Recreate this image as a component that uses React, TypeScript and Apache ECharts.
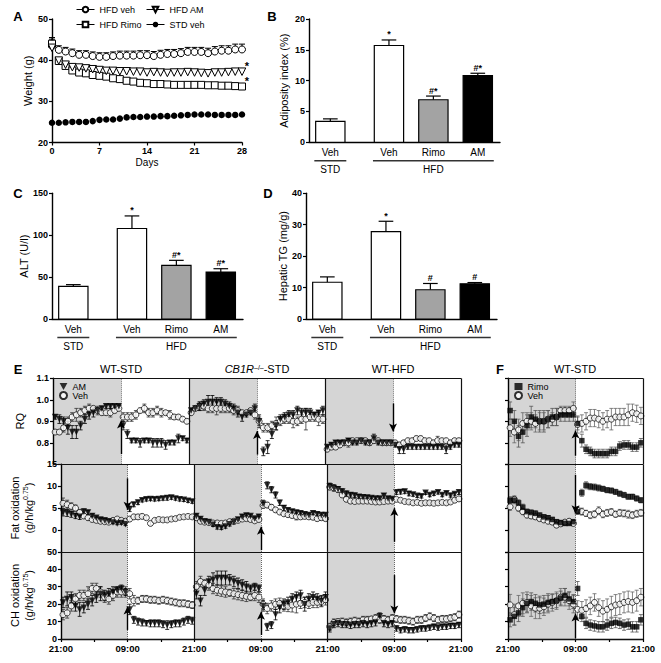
import React, { useEffect, useRef } from "react";
import * as echarts from "echarts";

const FONT = "'Liberation Sans', Arial, Helvetica, sans-serif";

// ---------------- Panel A : body weight ----------------
const A_DAYS = [0, 1, 2, 3, 4, 5, 6, 7, 8, 9, 10, 11, 12, 13, 14, 15, 16, 17, 18, 19, 20, 21, 22, 23, 24, 25, 26, 27, 28];
const A_HFD_VEH = [43.5, 42.5, 42.1, 41.7, 41.3, 41.3, 41.0, 40.8, 40.8, 41.0, 41.1, 41.1, 41.1, 41.2, 41.2, 41.0, 41.3, 41.5, 41.5, 41.7, 42.0, 42.0, 42.0, 41.7, 42.1, 42.3, 42.3, 42.6, 42.6];
const A_HFD_VEH_ERR = [1.6, 1.0, 1.0, 1.0, 1.0, 1.0, 1.0, 1.0, 1.0, 1.0, 1.1, 1.1, 1.1, 1.1, 1.1, 1.1, 1.1, 1.1, 1.1, 1.1, 1.1, 1.1, 1.1, 1.2, 1.2, 1.2, 1.2, 1.3, 1.3];
const A_HFD_RIMO = [44.0, 39.8, 38.6, 37.5, 37.0, 36.8, 36.4, 36.2, 36.0, 35.6, 35.4, 35.0, 34.8, 34.5, 34.4, 34.2, 34.2, 34.1, 34.0, 34.0, 34.0, 34.0, 34.0, 33.9, 33.9, 33.8, 33.8, 33.7, 33.6];
const A_HFD_RIMO_ERR = [1.5, 0.6, 0.6, 0.6, 0.6, 0.6, 0.6, 0.6, 0.6, 0.6, 0.6, 0.6, 0.6, 0.6, 0.6, 0.6, 0.6, 0.6, 0.6, 0.6, 0.6, 0.6, 0.6, 0.6, 0.6, 0.6, 0.6, 0.6, 0.6];
const A_HFD_AM = [43.0, 39.9, 38.9, 38.3, 38.2, 38.0, 37.8, 37.6, 37.4, 37.4, 37.3, 37.3, 37.2, 37.2, 37.0, 37.1, 37.0, 36.9, 37.0, 37.0, 37.1, 37.0, 36.9, 36.8, 37.0, 37.0, 37.1, 37.2, 37.2];
const A_HFD_AM_ERR = [1.0, 0.6, 0.6, 0.6, 0.6, 0.6, 0.6, 0.6, 0.6, 0.6, 0.6, 0.6, 0.6, 0.6, 0.6, 0.6, 0.6, 0.6, 0.6, 0.6, 0.6, 0.6, 0.6, 0.6, 0.6, 0.6, 0.6, 0.6, 0.6];
const A_STD_VEH = [24.8, 24.8, 24.9, 25.0, 25.0, 25.0, 25.2, 25.5, 25.6, 25.6, 25.8, 26.1, 26.2, 26.2, 26.3, 26.3, 26.4, 26.4, 26.5, 26.6, 26.7, 26.8, 26.8, 26.8, 26.7, 26.7, 26.7, 26.7, 26.8];
const A_SIG_AM = "*";
const A_SIG_RIMO = "*";

// ---------------- Panels B, C, D : bar charts ----------------
const BAR_LABELS = ["Veh", "Veh", "Rimo", "AM"];
const GROUP_NAMES = ["STD", "HFD"];
const GROUP_SPANS = [[0, 0], [1, 3]];
const B_VALUES = [3.4, 15.7, 6.9, 10.8];
const B_ERR = [0.4, 0.9, 0.6, 0.4];
const B_SIG = ["", "*", "#*", "#*"];
const C_VALUES = [39, 108, 64, 56];
const C_ERR = [2, 15, 6, 4];
const C_SIG = ["", "*", "#*", "#*"];
const D_VALUES = [11.7, 27.8, 9.3, 11.2];
const D_ERR = [1.7, 3.3, 2.0, 0.4];
const D_SIG = ["", "*", "#", "#"];

// ---------------- Panel E : indirect calorimetry (3 x 24 h) ----------------
const HOURS = [0.375, 1.125, 1.875, 2.625, 3.375, 4.125, 4.875, 5.625, 6.375, 7.125, 7.875, 8.625, 9.375, 10.125, 10.875, 11.625, 12.375, 13.125, 13.875, 14.625, 15.375, 16.125, 16.875, 17.625, 18.375, 19.125, 19.875, 20.625, 21.375, 22.125, 22.875, 23.625];
const E_COLUMNS = ["WT-STD", "CB1R-STD", "WT-HFD"];
const TIME_TICKS = ["21:00", "09:00"];

const E_RQ_AM = [
  0.92, 0.91, 0.90, 0.87, 0.85, 0.85, 0.88, 0.91, 0.93, 0.94, 0.95, 0.96, 0.97, 0.97, 0.97, 0.97, 0.88, 0.84, 0.81, 0.81, 0.80, 0.81, 0.81, 0.80, 0.80, 0.80, 0.79, 0.80, 0.80, 0.82, 0.82, 0.81,
  0.95, 0.96, 0.97, 0.98, 0.99, 0.99, 0.99, 0.99, 0.98, 0.97, 0.96, 0.94, 0.92, 0.93, 0.94, 0.96, 0.90, 0.76, 0.78, 0.84, 0.88, 0.91, 0.92, 0.93, 0.93, 0.95, 0.94, 0.94, 0.94, 0.93, 0.94, 0.95,
  0.78, 0.79, 0.80, 0.80, 0.80, 0.81, 0.80, 0.80, 0.81, 0.80, 0.80, 0.82, 0.80, 0.80, 0.80, 0.80, 0.79, 0.77, 0.77, 0.78, 0.78, 0.78, 0.78, 0.78, 0.78, 0.78, 0.78, 0.78, 0.77, 0.78, 0.79, 0.79,
];
const E_RQ_AM_ERR = [
  0.01, 0.02, 0.02, 0.03, 0.03, 0.03, 0.02, 0.02, 0.02, 0.02, 0.01, 0.01, 0.01, 0.01, 0.01, 0.01, 0.02, 0.02, 0.01, 0.01, 0.02, 0.01, 0.01, 0.02, 0.02, 0.02, 0.02, 0.01, 0.01, 0.02, 0.01, 0.01,
  0.01, 0.01, 0.02, 0.02, 0.03, 0.03, 0.02, 0.02, 0.02, 0.02, 0.02, 0.02, 0.02, 0.01, 0.01, 0.02, 0.03, 0.02, 0.03, 0.02, 0.02, 0.02, 0.02, 0.02, 0.02, 0.02, 0.02, 0.02, 0.02, 0.01, 0.01, 0.02,
  0.01, 0.01, 0.01, 0.01, 0.01, 0.01, 0.01, 0.01, 0.01, 0.01, 0.01, 0.02, 0.01, 0.01, 0.01, 0.01, 0.01, 0.02, 0.02, 0.01, 0.01, 0.01, 0.01, 0.01, 0.01, 0.01, 0.01, 0.01, 0.02, 0.01, 0.01, 0.01,
];
const E_RQ_VEH = [
  0.85, 0.85, 0.87, 0.90, 0.92, 0.93, 0.94, 0.95, 0.96, 0.96, 0.95, 0.94, 0.94, 0.94, 0.95, 0.96, 0.92, 0.92, 0.92, 0.93, 0.95, 0.96, 0.94, 0.94, 0.95, 0.94, 0.94, 0.93, 0.92, 0.92, 0.91, 0.90,
  0.94, 0.96, 0.97, 0.97, 0.96, 0.96, 0.96, 0.96, 0.96, 0.96, 0.95, 0.95, 0.94, 0.94, 0.95, 0.93, 0.90, 0.87, 0.87, 0.88, 0.89, 0.90, 0.91, 0.91, 0.90, 0.90, 0.91, 0.91, 0.92, 0.92, 0.91, 0.91,
  0.77, 0.78, 0.78, 0.79, 0.80, 0.80, 0.81, 0.81, 0.81, 0.81, 0.80, 0.81, 0.81, 0.80, 0.80, 0.80, 0.80, 0.79, 0.80, 0.81, 0.81, 0.82, 0.82, 0.81, 0.81, 0.80, 0.81, 0.81, 0.81, 0.80, 0.81, 0.81,
];
const E_RQ_VEH_ERR = [
  0.01, 0.01, 0.02, 0.02, 0.02, 0.03, 0.02, 0.02, 0.02, 0.01, 0.02, 0.01, 0.01, 0.02, 0.01, 0.01, 0.02, 0.02, 0.02, 0.02, 0.01, 0.02, 0.02, 0.02, 0.02, 0.02, 0.01, 0.02, 0.01, 0.01, 0.01, 0.01,
  0.01, 0.01, 0.02, 0.02, 0.02, 0.02, 0.03, 0.02, 0.02, 0.02, 0.02, 0.02, 0.01, 0.01, 0.01, 0.02, 0.02, 0.02, 0.02, 0.02, 0.03, 0.02, 0.02, 0.02, 0.03, 0.02, 0.02, 0.05, 0.02, 0.02, 0.03, 0.02,
  0.01, 0.01, 0.01, 0.01, 0.01, 0.02, 0.01, 0.01, 0.01, 0.01, 0.01, 0.01, 0.01, 0.01, 0.01, 0.01, 0.01, 0.01, 0.01, 0.01, 0.01, 0.01, 0.01, 0.01, 0.01, 0.01, 0.02, 0.01, 0.01, 0.01, 0.01, 0.01,
];
const E_FAT_AM = [
  4.0, 3.9, 3.6, 3.2, 3.0, 4.2, 4.0, 3.2, 2.8, 2.4, 2.2, 2.0, 1.7, 1.5, 1.6, 1.3, 4.8, 5.8, 6.3, 6.8, 7.0, 7.1, 7.0, 7.1, 7.2, 7.3, 7.4, 7.2, 7.0, 6.9, 6.7, 6.5,
  3.2, 2.5, 2.0, 1.8, 1.2, 0.6, 0.5, 0.8, 1.3, 1.8, 2.4, 3.0, 3.3, 3.2, 2.6, 3.0, 6.0, 10.2, 9.2, 8.0, 6.2, 5.0, 4.5, 4.2, 4.0, 3.8, 3.6, 3.4, 3.8, 3.6, 3.4, 3.4,
  10.0, 9.6, 9.3, 8.8, 8.3, 8.0, 7.9, 7.6, 7.5, 7.4, 7.3, 7.2, 7.2, 7.8, 7.2, 7.1, 8.6, 8.7, 8.8, 8.3, 8.1, 7.8, 7.7, 8.5, 8.0, 8.3, 8.6, 8.0, 8.4, 7.9, 8.2, 8.6,
];
const E_FAT_AM_ERR = [
  0.8, 0.8, 0.7, 0.6, 0.6, 0.6, 0.5, 0.5, 0.4, 0.4, 0.4, 0.4, 0.3, 0.3, 0.3, 0.3, 0.6, 0.5, 0.5, 0.4, 0.4, 0.4, 0.4, 0.4, 0.4, 0.5, 0.4, 0.4, 0.4, 0.4, 0.4, 0.4,
  0.5, 0.5, 0.4, 0.4, 0.4, 0.4, 0.4, 0.4, 0.4, 0.4, 0.4, 0.5, 0.5, 0.4, 0.4, 0.5, 0.8, 0.8, 0.7, 0.7, 0.6, 0.6, 0.5, 0.5, 0.5, 0.5, 0.5, 0.5, 0.5, 0.5, 0.5, 0.5,
  0.7, 0.7, 0.6, 0.6, 0.6, 0.5, 0.5, 0.5, 0.5, 0.5, 0.4, 0.4, 0.4, 0.5, 0.4, 0.4, 0.5, 0.5, 0.5, 0.5, 0.4, 0.4, 0.4, 0.4, 0.4, 0.4, 0.4, 0.4, 0.4, 0.4, 0.4, 0.5,
];
const E_FAT_VEH = [
  6.1, 5.8, 5.4, 5.0, 4.0, 3.2, 2.8, 2.4, 2.2, 2.0, 1.9, 1.8, 2.2, 2.5, 2.2, 2.0, 2.5, 3.0, 3.0, 3.1, 2.8, 1.5, 2.2, 2.4, 2.3, 2.3, 2.5, 2.6, 2.9, 3.0, 3.1, 3.0,
  2.8, 2.0, 1.8, 1.7, 1.6, 1.6, 1.5, 1.6, 1.9, 2.0, 2.2, 2.5, 2.6, 2.4, 2.1, 2.4, 5.6, 5.7, 5.2, 4.6, 4.1, 3.7, 3.5, 3.3, 3.1, 3.0, 3.1, 3.0, 2.9, 2.6, 2.8, 2.6,
  9.8, 9.6, 9.2, 8.0, 7.0, 6.6, 6.5, 6.6, 6.6, 6.6, 6.5, 6.4, 6.4, 6.5, 6.6, 6.6, 7.0, 6.8, 6.5, 6.4, 6.2, 6.3, 6.1, 6.2, 6.2, 6.1, 6.2, 6.3, 6.2, 6.4, 6.8, 7.1,
];
const E_FAT_VEH_ERR = [
  1.2, 1.0, 0.8, 0.7, 0.6, 0.5, 0.5, 0.4, 0.4, 0.4, 0.4, 0.3, 0.4, 0.4, 0.4, 0.4, 0.5, 0.5, 0.5, 0.5, 0.4, 0.4, 0.4, 0.4, 0.4, 0.4, 0.4, 0.4, 0.4, 0.4, 0.4, 0.4,
  0.5, 0.4, 0.4, 0.4, 0.4, 0.4, 0.4, 0.4, 0.4, 0.4, 0.4, 0.4, 0.4, 0.4, 0.4, 0.4, 0.6, 0.6, 0.6, 0.5, 0.5, 0.5, 0.5, 0.5, 0.8, 0.5, 0.5, 0.5, 0.5, 0.5, 0.5, 0.5,
  0.6, 0.6, 0.5, 0.5, 0.5, 0.5, 0.4, 0.4, 0.4, 0.4, 0.4, 0.4, 0.4, 0.4, 0.4, 0.4, 0.4, 0.4, 0.4, 0.4, 0.4, 0.4, 0.4, 0.4, 0.4, 0.4, 0.4, 0.4, 0.4, 0.4, 0.5, 0.5,
];
const E_CH_AM = [
  21, 23, 24, 19, 17, 18, 20, 22, 24, 26, 25, 26, 27, 28, 29, 27, 17, 11, 10, 9.5, 9, 9, 9, 9, 8.5, 8, 8.5, 9, 9, 10, 11, 10.5,
  26, 22, 28, 33, 34, 35, 35, 35, 34, 33, 32, 31, 30, 29, 30, 29, 19, 7, 8, 14, 18, 20, 21, 23, 24, 25, 20, 23, 24, 23, 22, 24,
  6, 8.5, 9, 8.5, 8.5, 8, 8.5, 8.5, 9, 8.5, 9, 9.5, 13, 9, 8.5, 9, 6, 5, 5.5, 5, 5, 5.5, 6, 6, 6.5, 7, 6.5, 7, 7, 7.5, 7.5, 8,
];
const E_CH_AM_ERR = [
  3, 4, 3, 3, 4, 3, 3, 3, 3, 4, 3, 3, 3, 2, 2, 2, 3, 2, 2, 2, 1.5, 2, 2, 2, 2, 2.5, 2, 2, 2, 2, 2, 2,
  3, 3, 3, 3, 4, 4, 4, 4, 3, 3, 3, 3, 3, 2, 2, 2, 3, 2, 2, 3, 3, 3, 3, 3, 3, 3, 4, 3, 3, 3, 3, 3,
  2, 2, 2, 2, 2, 2, 2, 2, 2, 2, 2, 2, 2, 2, 2, 2, 1.5, 1.5, 1.5, 1.5, 1.5, 1.5, 1.5, 1.5, 1.5, 1.5, 1.5, 1.5, 1.5, 1.5, 1.5, 1.5,
];
const E_CH_VEH = [
  14, 15, 19, 23, 25, 25, 26, 29, 29, 27, 24, 23, 25, 27, 27, 27, 26, 22, 22, 23, 23, 22.5, 22.5, 22, 22.5, 22, 21.5, 21, 20.5, 20.5, 20, 19.5,
  30, 33, 32, 31, 29, 28, 27.5, 27, 26.5, 26, 25.5, 25, 24.5, 24, 25, 24, 20, 17.5, 19, 20, 20.5, 19, 18.7, 19.5, 20, 20.5, 21, 20.5, 21, 21, 21.5, 22.5,
  7, 9.5, 10, 10, 9.5, 10, 10.5, 10, 11, 11, 11.5, 12, 11, 11.5, 11, 12, 11.5, 11, 11, 10.5, 10, 11, 11, 12, 13, 12, 11, 11.5, 11.5, 12, 12.5, 14,
];
const E_CH_VEH_ERR = [
  3, 3, 3, 3, 3, 3, 4, 3, 3, 3, 3, 3, 3, 3, 3, 3, 3, 3, 2, 2, 2, 2, 2, 2, 2, 2, 2, 2, 2, 2, 2, 2,
  3, 3, 2, 3, 3, 3, 3, 3, 2, 3, 3, 3, 3, 2, 3, 3, 3, 3, 3, 3, 3, 3, 3, 4, 5, 3, 3, 3, 3, 3, 3, 3,
  2, 2, 1.5, 2, 2, 2, 2, 2, 2, 2, 1.5, 2, 2, 2, 2, 2, 2, 2, 2, 2, 2, 2, 2, 2, 2, 2, 2, 2, 2, 2, 2, 2,
];

// ---------------- Panel F : WT-STD, rimonabant ----------------
const F_RQ_RIMO = [0.95, 0.90, 0.83, 0.85, 0.88, 0.92, 0.91, 0.90, 0.90, 0.91, 0.92, 0.92, 0.93, 0.93, 0.93, 0.93, 0.89, 0.81, 0.77, 0.76, 0.75, 0.75, 0.75, 0.75, 0.76, 0.76, 0.785, 0.79, 0.79, 0.78, 0.78, 0.80];
const F_RQ_RIMO_ERR = [0.04, 0.05, 0.05, 0.05, 0.05, 0.05, 0.04, 0.05, 0.05, 0.04, 0.04, 0.04, 0.03, 0.03, 0.03, 0.03, 0.03, 0.03, 0.02, 0.02, 0.02, 0.02, 0.02, 0.02, 0.02, 0.02, 0.02, 0.02, 0.02, 0.02, 0.02, 0.02];
const F_RQ_VEH = [0.87, 0.85, 0.86, 0.89, 0.90, 0.90, 0.89, 0.90, 0.90, 0.91, 0.91, 0.92, 0.95, 0.95, 0.95, 0.96, 0.885, 0.89, 0.90, 0.915, 0.915, 0.91, 0.90, 0.91, 0.91, 0.92, 0.92, 0.92, 0.93, 0.94, 0.935, 0.925];
const F_RQ_VEH_ERR = [0.04, 0.05, 0.05, 0.05, 0.04, 0.04, 0.04, 0.04, 0.04, 0.04, 0.03, 0.04, 0.02, 0.02, 0.02, 0.03, 0.04, 0.04, 0.04, 0.04, 0.04, 0.04, 0.04, 0.04, 0.05, 0.04, 0.04, 0.04, 0.05, 0.04, 0.04, 0.04];
const F_FAT_RIMO = [6.8, 6.8, 6.2, 5.2, 4.2, 4.0, 3.8, 3.4, 3.0, 2.8, 2.4, 1.9, 1.7, 1.5, 1.5, 1.9, 4.2, 8.5, 10.2, 9.9, 9.8, 9.6, 9.4, 9.1, 9.0, 8.7, 8.3, 8.0, 7.6, 7.6, 7.2, 6.8];
const F_FAT_RIMO_ERR = [0.8, 0.8, 0.7, 0.7, 0.6, 0.6, 0.6, 0.5, 0.5, 0.5, 0.5, 0.5, 0.4, 0.4, 0.4, 0.4, 0.6, 0.8, 0.8, 0.7, 0.7, 0.7, 0.6, 0.6, 0.6, 0.6, 0.6, 0.6, 0.6, 0.6, 0.6, 0.6];
const F_FAT_VEH = [5.3, 7.0, 5.0, 4.2, 3.4, 3.2, 3.0, 2.6, 2.3, 2.0, 1.8, 1.1, 1.4, 1.8, 2.0, 1.5, 4.5, 4.2, 3.8, 3.4, 3.6, 4.4, 3.6, 3.9, 4.1, 3.6, 3.9, 3.8, 3.6, 3.4, 3.7, 3.9];
const F_FAT_VEH_ERR = [0.8, 0.8, 0.7, 0.7, 0.6, 0.6, 0.6, 0.5, 0.5, 0.5, 0.5, 0.5, 0.5, 0.5, 0.5, 0.5, 0.8, 0.8, 0.7, 0.8, 0.8, 0.9, 0.8, 0.8, 0.8, 0.7, 0.8, 0.8, 0.9, 0.8, 0.8, 0.8];
const F_CH_RIMO = [11, 13, 15, 18, 20.5, 21.5, 20.5, 19.6, 20, 21, 21.5, 22, 23.5, 25, 23, 21.5, 29, 13, 9, 8, 7.5, 7, 7, 8, 9, 9.5, 9, 8, 8.5, 7, 7, 11];
const F_CH_RIMO_ERR = [4, 5, 5, 5, 5, 5, 5, 5, 5, 5, 4, 4, 4, 4, 4, 4, 4, 3, 3, 3, 3, 3, 3, 3, 3, 3, 3, 3, 3, 3, 3, 3];
const F_CH_VEH = [19.6, 14, 19, 20.5, 21, 19, 17.7, 17.7, 18.5, 20, 21, 22, 24, 24, 22, 20, 17, 16.5, 17.5, 19, 21, 18, 16, 17, 18.5, 19.5, 20, 21, 21.5, 21, 22, 24];
const F_CH_VEH_ERR = [6, 6, 6, 6, 6, 6, 6, 6, 5, 5, 5, 5, 5, 5, 5, 5, 5, 5, 5, 5, 5, 5, 6, 6, 6, 6, 6, 6, 6, 6, 6, 5];

// ---------------- styling / layout constants ----------------
const XPOS = [0.48, 1.8, 2.8, 3.8];
const BAR_W = 0.66;
const BAR_FILLS = ["#ffffff", "#ffffff", "#a3a3a3", "#000000"];
const SHADE = "#d5d5d5";
const DOWN_TRIANGLE = "path://M0,0L10,0L5,9Z";

const AX_LINE = { show: true, onZero: false, lineStyle: { color: "#000", width: 1.4 } };
const AX_TICK = { show: true, inside: false, length: 3, lineStyle: { color: "#000", width: 1.2 } };
const AX_LABEL = { show: true, color: "#000", fontSize: 9, fontWeight: "bold", fontFamily: FONT, margin: 4 };
const NAME_STYLE = { color: "#000", fontSize: 11, fontFamily: FONT };
const NO_SPLIT = { show: false };

function txt(text: string, x: number, y: number, font: string, align = "center", valign = "middle") {
  return {
    text, x, y, font, fill: "#000",
    textAlign: align, align, textVerticalAlign: valign, verticalAlign: valign,
  };
}

function barSeries(gi: number, values: number[], errs: number[], sigs: string[]) {
  return {
    type: "custom", xAxisIndex: gi, yAxisIndex: gi, silent: true, clip: false, z: 3,
    data: values.map((v, i) => [XPOS[i], v, errs[i]]),
    renderItem: (params: any, api: any) => {
      const i = params.dataIndex;
      const x = api.value(0), v = api.value(1), e = api.value(2);
      const bl = api.coord([x - BAR_W / 2, 0]);
      const tr = api.coord([x + BAR_W / 2, v]);
      const et = api.coord([x, v + e]);
      const cl = api.coord([x - BAR_W / 4, v + e]);
      const cr = api.coord([x + BAR_W / 4, v + e]);
      const ls = { stroke: "#000", lineWidth: 1.2 };
      const children: any[] = [
        { type: "line", shape: { x1: et[0], y1: tr[1], x2: et[0], y2: et[1] }, style: ls },
        { type: "line", shape: { x1: cl[0], y1: et[1], x2: cr[0], y2: et[1] }, style: ls },
        { type: "rect", shape: { x: bl[0], y: tr[1], width: tr[0] - bl[0], height: bl[1] - tr[1] }, style: { fill: BAR_FILLS[i], stroke: "#000", lineWidth: 1.2 } },
        { type: "text", style: txt(BAR_LABELS[i], et[0], bl[1] + 10.5, `10px ${FONT}`) },
      ];
      if (sigs[i]) children.push({ type: "text", style: txt(sigs[i], et[0], et[1] - 1, `bold 9px ${FONT}`, "center", "bottom") });
      return { type: "group", children };
    },
  };
}

function groupSeries(gi: number) {
  return {
    type: "custom", xAxisIndex: gi, yAxisIndex: gi, silent: true, clip: false, z: 3,
    data: GROUP_SPANS.map((s) => [XPOS[s[0]] - BAR_W / 2 - 0.03, XPOS[s[1]] + BAR_W / 2 + 0.03]),
    renderItem: (params: any, api: any) => {
      const a = api.coord([api.value(0), 0]);
      const b = api.coord([api.value(1), 0]);
      const y = a[1] + 18.5;
      return {
        type: "group",
        children: [
          { type: "line", shape: { x1: a[0], y1: y, x2: b[0], y2: y }, style: { stroke: "#333", lineWidth: 1.6 } },
          { type: "text", style: txt(GROUP_NAMES[params.dataIndex], (a[0] + b[0]) / 2, y + 9, `10px ${FONT}`) },
        ],
      };
    },
  };
}

function errSeries(gi: number, xs: number[], ys: number[], es: number[], color: string, cap: number, lw: number, both: boolean) {
  return {
    type: "custom", xAxisIndex: gi, yAxisIndex: gi, silent: true, z: 1,
    data: xs.map((x, i) => [x, ys[i], es[i]]),
    renderItem: (params: any, api: any) => {
      const x = api.value(0), y = api.value(1), e = api.value(2);
      const hi = api.coord([x, y + e]);
      const lo = api.coord([x, both ? y - e : y]);
      const st = { stroke: color, lineWidth: lw };
      const ch: any[] = [
        { type: "line", shape: { x1: hi[0], y1: hi[1], x2: lo[0], y2: lo[1] }, style: st },
        { type: "line", shape: { x1: hi[0] - cap, y1: hi[1], x2: hi[0] + cap, y2: hi[1] }, style: st },
      ];
      if (both) ch.push({ type: "line", shape: { x1: lo[0] - cap, y1: lo[1], x2: lo[0] + cap, y2: lo[1] }, style: st });
      return { type: "group", children: ch };
    },
  };
}

const SYM: Record<string, any> = {
  AM: { symbol: "triangle", symbolRotate: 180, symbolSize: 6.5, itemStyle: { color: "#000" } },
  Veh: { symbol: "circle", symbolSize: 6, itemStyle: { color: "#fff", borderColor: "#000", borderWidth: 0.9 } },
  Rimo: { symbol: "rect", symbolSize: 5.5, itemStyle: { color: "#000" } },
};

function scatterSeries(name: string, gi: number, xs: number[], ys: number[], z: number) {
  return {
    type: "scatter", name, xAxisIndex: gi, yAxisIndex: gi, z, silent: true,
    ...SYM[name],
    data: xs.map((x, i) => [x, ys[i]]),
  };
}

// shading, dotted "lights-on" line, column separators, frame edges and arrows
function frameSeries(gi: number, shades: number[][], dotted: number[], solid: number[], arrows: number[][], yMin: number, yMax: number, xMax: number) {
  return [
    {
      type: "line", xAxisIndex: gi, yAxisIndex: gi, data: [], silent: true, z: 0,
      markArea: { silent: true, itemStyle: { color: SHADE }, data: shades.map(([a, b]) => [{ xAxis: a }, { xAxis: b }]) },
      markLine: { silent: true, symbol: ["none", "none"], label: { show: false }, lineStyle: { type: "dotted", color: "#666", width: 1 }, data: dotted.map((x) => ({ xAxis: x })) },
    },
    {
      type: "line", xAxisIndex: gi, yAxisIndex: gi, data: [], silent: true, z: 5,
      markLine: {
        silent: true, symbol: ["none", "arrow"], symbolSize: [6, 8], label: { show: false },
        lineStyle: { type: "solid", color: "#000", width: 1.4 },
        data: arrows.map(([x, y1, y2]) => [{ coord: [x, y1], symbol: "none" }, { coord: [x, y2], symbol: "arrow" }]),
      },
    },
    {
      type: "line", xAxisIndex: gi, yAxisIndex: gi, data: [], silent: true, z: 5,
      markLine: {
        silent: true, symbol: ["none", "none"], label: { show: false }, lineStyle: { type: "solid", color: "#111", width: 1.2 },
        data: [...solid.map((x) => ({ xAxis: x })), { xAxis: xMax }, { yAxis: yMin }, { yAxis: yMax }],
      },
    },
  ];
}

function buildOption() {
  const EX = [0, 1, 2].flatMap((c) => HOURS.map((h) => h + 24 * c));
  const FX = HOURS;
  const timeFmt = (v: number) => (v % 24 === 0 ? TIME_TICKS[0] : v % 24 === 12 ? TIME_TICKS[1] : "");

  const grids = [
    { left: 52, top: 19, width: 190, height: 123.5 },
    { left: 309, top: 19, width: 191, height: 123.3 },
    { left: 52, top: 193.3, width: 191, height: 125.7 },
    { left: 306, top: 193.3, width: 191, height: 125.7 },
    { left: 53, top: 378.3, width: 408, height: 86 },
    { left: 53, top: 464.3, width: 408, height: 87.6 },
    { left: 53, top: 551.9, width: 408, height: 87.1 },
    { left: 508, top: 378.3, width: 135, height: 86 },
    { left: 508, top: 464.3, width: 135, height: 87.6 },
    { left: 508, top: 551.9, width: 135, height: 87.1 },
  ].map((g) => ({ ...g, containLabel: false, show: false }));

  const barX = (gi: number) => ({ gridIndex: gi, type: "value", min: 0, max: 4.3, axisLine: AX_LINE, axisTick: { show: false }, axisLabel: { show: false }, splitLine: NO_SPLIT });
  const eX = (gi: number, max: number, labels: boolean) => ({
    gridIndex: gi, type: "value", min: 0, max, interval: 6, show: labels, z: 2,
    axisLine: AX_LINE, axisTick: AX_TICK, axisLabel: { ...AX_LABEL, formatter: timeFmt, fontSize: 9.5 }, splitLine: NO_SPLIT,
  });
  const xAxis = [
    { gridIndex: 0, type: "value", min: 0, max: 28, interval: 7, axisLine: AX_LINE, axisTick: AX_TICK, axisLabel: AX_LABEL, splitLine: NO_SPLIT, name: "Days", nameLocation: "middle", nameGap: 15, nameTextStyle: { ...NAME_STYLE, fontSize: 10 } },
    barX(1), barX(2), barX(3),
    eX(4, 72, false), eX(5, 72, false), eX(6, 72, true),
    eX(7, 24, false), eX(8, 24, false), eX(9, 24, true),
  ];

  const supRich = { sup: { fontSize: 7, verticalAlign: "top", fontFamily: FONT, color: "#000" } };
  const yv = (gi: number, min: number, max: number, interval: number, extra: any = {}) => ({
    gridIndex: gi, type: "value", min, max, interval, z: 2, axisLine: AX_LINE, axisTick: AX_TICK, axisLabel: { ...AX_LABEL }, splitLine: NO_SPLIT, nameLocation: "middle", nameTextStyle: NAME_STYLE, ...extra,
  });
  const rqFmt = (v: number) => v.toFixed(1);
  const yAxis = [
    yv(0, 20, 50, 10, { name: "Weight (g)", nameGap: 19 }),
    yv(1, 0, 20, 5, { name: "Adiposity index (%)", nameGap: 20 }),
    yv(2, 0, 150, 50, { name: "ALT (U/l)", nameGap: 19 }),
    yv(3, 0, 40, 10, { name: "Hepatic TG (mg/g)", nameGap: 17 }),
    yv(4, 0.7, 1.1, 0.1, { name: "RQ", nameGap: 20, axisLabel: { ...AX_LABEL, formatter: rqFmt, showMinLabel: false } }),
    yv(5, -5, 15, 5, { name: "Fat oxidation\n(g/h/kg{sup|0.75})", nameGap: 14, nameTextStyle: { ...NAME_STYLE, lineHeight: 14, rich: supRich }, axisLabel: { ...AX_LABEL, showMinLabel: false } }),
    yv(6, 0, 50, 10, { name: "CH oxidation\n(g/h/kg{sup|0.75})", nameGap: 14, nameTextStyle: { ...NAME_STYLE, lineHeight: 14, rich: supRich } }),
    yv(7, 0.7, 1.1, 0.1, { axisLabel: { show: false } }),
    yv(8, -5, 15, 5, { axisLabel: { show: false } }),
    yv(9, 0, 50, 10, { axisLabel: { show: false } }),
  ];

  const series: any[] = [];
  // Panel A
  series.push(errSeries(0, A_DAYS, A_HFD_VEH, A_HFD_VEH_ERR, "#000", 3, 1, false));
  series.push(errSeries(0, A_DAYS, A_HFD_RIMO, A_HFD_RIMO_ERR, "#000", 3, 1, false));
  series.push(errSeries(0, A_DAYS, A_HFD_AM, A_HFD_AM_ERR, "#000", 3, 1, false));
  const aLine = (name: string, ys: number[], sym: any, extra: any = {}) => ({
    type: "line", name, xAxisIndex: 0, yAxisIndex: 0, z: 3, silent: true,
    lineStyle: { width: 0 }, showSymbol: true, ...sym,
    data: A_DAYS.map((d, i) => [d, ys[i]]), ...extra,
  });
  const star = (v: number, s: string) => ({
    markPoint: { symbol: "circle", symbolSize: 0, silent: true, data: [{ coord: [28, v] }], label: { show: true, formatter: s, position: "inside", offset: [5, -6], color: "#000", fontSize: 11, fontWeight: "bold" } },
  });
  series.push(aLine("HFD veh", A_HFD_VEH, { symbol: "circle", symbolSize: 7, itemStyle: { color: "#fff", borderColor: "#000", borderWidth: 1 } }));
  series.push(aLine("HFD Rimo", A_HFD_RIMO, { symbol: "rect", symbolSize: 7, itemStyle: { color: "#fff", borderColor: "#000", borderWidth: 1 } }, star(A_HFD_RIMO[28], A_SIG_RIMO)));
  series.push(aLine("HFD AM", A_HFD_AM, { symbol: "triangle", symbolRotate: 180, symbolSize: 7.5, itemStyle: { color: "#fff", borderColor: "#000", borderWidth: 1 } }, star(A_HFD_AM[28], A_SIG_AM)));
  series.push(aLine("STD veh", A_STD_VEH, { symbol: "circle", symbolSize: 6.5, itemStyle: { color: "#000" } }));

  // Bars
  series.push(barSeries(1, B_VALUES, B_ERR, B_SIG), groupSeries(1));
  series.push(barSeries(2, C_VALUES, C_ERR, C_SIG), groupSeries(2));
  series.push(barSeries(3, D_VALUES, D_ERR, D_SIG), groupSeries(3));

  // Panel E
  const eShades = [[0, 12], [24, 36], [48, 60]];
  const eDotted = [12, 36, 60];
  const eSolid = [24, 48];
  series.push(...frameSeries(4, eShades, eDotted, eSolid, [[12, 0.748, 0.904], [36, 0.745, 0.855], [60, 0.983, 0.853]], 0.7, 1.1, 72));
  series.push(...frameSeries(5, eShades, eDotted, eSolid, [[12, 11.8, 4.6], [36, -4.6, 0.75], [60, -2.7, 5]], -5, 15, 72));
  series.push(...frameSeries(6, eShades, eDotted, eSolid, [[12, 5.2, 18.6], [36, 2.3, 15.7], [60, 36.7, 14.7]], 0, 50, 72));
  const eRows: [number, number[], number[], number[], number[]][] = [
    [4, E_RQ_AM, E_RQ_AM_ERR, E_RQ_VEH, E_RQ_VEH_ERR],
    [5, E_FAT_AM, E_FAT_AM_ERR, E_FAT_VEH, E_FAT_VEH_ERR],
    [6, E_CH_AM, E_CH_AM_ERR, E_CH_VEH, E_CH_VEH_ERR],
  ];
  eRows.forEach(([gi, am, amE, veh, vehE]) => {
    series.push(errSeries(gi, EX, veh, vehE, "#333", 2, 0.8, true));
    series.push(errSeries(gi, EX, am, amE, "#000", 2, 0.8, true));
    series.push(scatterSeries("Veh", gi, EX, veh, 2));
    series.push(scatterSeries("AM", gi, EX, am, 3));
  });

  // Panel F
  series.push(...frameSeries(7, [[0, 12]], [12], [], [[12, 0.74, 0.857]], 0.7, 1.1, 24));
  series.push(...frameSeries(8, [[0, 12]], [12], [], [[12, 12.6, 3.8]], -5, 15, 24));
  series.push(...frameSeries(9, [[0, 12]], [12], [], [[12, 0.4, 14.7]], 0, 50, 24));
  const fRows: [number, number[], number[], number[], number[]][] = [
    [7, F_RQ_RIMO, F_RQ_RIMO_ERR, F_RQ_VEH, F_RQ_VEH_ERR],
    [8, F_FAT_RIMO, F_FAT_RIMO_ERR, F_FAT_VEH, F_FAT_VEH_ERR],
    [9, F_CH_RIMO, F_CH_RIMO_ERR, F_CH_VEH, F_CH_VEH_ERR],
  ];
  fRows.forEach(([gi, ri, riE, veh, vehE]) => {
    series.push(errSeries(gi, FX, veh, vehE, "#666", 2, 0.8, true));
    series.push(errSeries(gi, FX, ri, riE, "#555", 2, 0.8, true));
    series.push(scatterSeries("Veh", gi, FX, veh, 2));
    series.push(scatterSeries("Rimo", gi, FX, ri, 3));
  });

  const legText = { color: "#000", fontSize: 9, fontFamily: FONT };
  const legend = [
    { data: ["HFD veh", "HFD Rimo"], orient: "vertical", left: 71, top: 0, itemGap: 6, itemWidth: 18, itemHeight: 7, textStyle: legText, selectedMode: false, lineStyle: { width: 1, color: "#000" } },
    { data: ["HFD AM", "STD veh"], orient: "vertical", left: 141, top: 0, itemGap: 6, itemWidth: 18, itemHeight: 7, textStyle: legText, selectedMode: false, lineStyle: { width: 1, color: "#000" } },
    { data: [{ name: "AM", icon: DOWN_TRIANGLE }, "Veh"], orient: "vertical", left: 54, top: 377, itemGap: 0, itemWidth: 8, itemHeight: 7, textStyle: { ...legText }, selectedMode: false },
    { data: ["Rimo", "Veh"], orient: "vertical", left: 509, top: 377, itemGap: 0, itemWidth: 8, itemHeight: 7, textStyle: { ...legText }, selectedMode: false },
  ];

  const letter = (t: string, x: number, y: number) => ({ type: "text", x, y, silent: true, style: txt(t, 0, 0, `900 13px ${FONT}`) });
  const title = (t: string, x: number, y: number, rich?: any) => ({ type: "text", x, y, silent: true, style: { ...txt(t, 0, 0, `11px ${FONT}`), rich } });
  const graphic = [
    letter("A", 18, 16), letter("B", 272, 16), letter("C", 18, 193), letter("D", 268, 193), letter("E", 18, 369), letter("F", 500, 369),
    title(E_COLUMNS[0], 121, 369),
    title("{it|CB1R}{sup|\u2013/\u2013}-STD", 257, 369, { it: { fontStyle: "italic", fontSize: 11, fontFamily: FONT, color: "#000" }, sup: { fontSize: 7, verticalAlign: "top", fontFamily: FONT, color: "#000" } }),
    title(E_COLUMNS[2], 393, 369),
    title(E_COLUMNS[0], 575, 369),
  ];

  return {
    animation: false,
    backgroundColor: "#fff",
    textStyle: { fontFamily: FONT },
    grid: grids,
    xAxis,
    yAxis,
    legend,
    graphic,
    series,
  };
}

export default function App() {
  const ref = useRef<HTMLDivElement>(null);
  useEffect(() => {
    if (!ref.current) return;
    const chart = echarts.init(ref.current, null, { renderer: "svg" });
    chart.setOption(buildOption() as any);
    return () => chart.dispose();
  }, []);
  return <div ref={ref} style={{ position: "absolute", left: 0, top: 0, width: 661, height: 663, background: "#fff" }} />;
}
